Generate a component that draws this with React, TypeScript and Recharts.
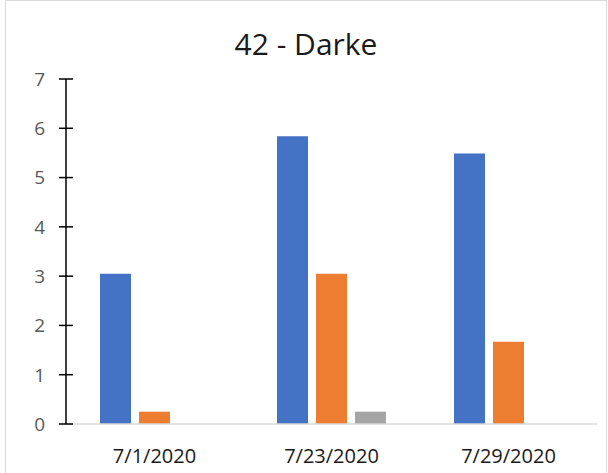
import { Bar, BarChart, XAxis, YAxis } from "recharts"

const dates = ["7/1/2020", "7/23/2020", "7/29/2020"]
const series1 = [3.05, 5.84, 5.49]
const series2 = [0.25, 3.05, 1.67]
const series3 = [0, 0.25, 0]
const yTicks = [0, 1, 2, 3, 4, 5, 6, 7]

const data = dates.map((date, i) => ({
  date,
  s1: series1[i],
  s2: series2[i],
  s3: series3[i],
}))

const FONT = "'Open Sans', sans-serif"

function YTick({ x, y, payload }: any) {
  const ax = x + 8
  return (
    <g>
      <line x1={ax - 7} x2={ax + 7} y1={y} y2={y} stroke="#000" strokeWidth={1.5} />
      <text x={ax - 21} y={y} dy="0.36em" textAnchor="end" fill="#595959" fontSize={19} fontFamily={FONT}>
        {payload.value}
      </text>
    </g>
  )
}

function XTick({ x, y, payload }: any) {
  return (
    <text x={x} y={y + 31} textAnchor="middle" fill="#1a1a1a" fontSize={20} fontFamily={FONT}>
      {payload.value}
    </text>
  )
}

export default function App() {
  return (
    <div style={{ position: "fixed", left: 0, top: 0, width: 608, height: 473, background: "#fff", overflow: "hidden" }}>
      <div style={{ position: "absolute", left: 5, top: 0, width: 600, height: 490, border: "1px solid #d9d9d9" }} />
      <div
        style={{
          position: "absolute",
          left: 0,
          top: 24,
          width: 612,
          textAlign: "center",
          fontFamily: FONT,
          fontSize: 30,
          color: "#1a1a1a",
          lineHeight: "40px",
        }}
      >
        42 - Darke
      </div>
      <div style={{ position: "absolute", left: 0, top: 0 }}>
        <BarChart
          width={608}
          height={473}
          data={data}
          margin={{ top: 79, right: 11, bottom: 9, left: 26 }}
          barSize={31}
          barGap={8}
        >
          <XAxis
            dataKey="date"
            axisLine={{ stroke: "#d9d9d9", strokeWidth: 1.5 }}
            tickLine={false}
            tick={<XTick />}
            height={40}
          />
          <YAxis
            domain={[0, 7]}
            ticks={yTicks}
            width={40}
            axisLine={{ stroke: "#000", strokeWidth: 1.5 }}
            tickLine={false}
            tick={<YTick />}
            interval={0}
          />
          <Bar dataKey="s1" fill="#4472C4" isAnimationActive={false} />
          <Bar dataKey="s2" fill="#ED7D31" isAnimationActive={false} />
          <Bar dataKey="s3" fill="#A5A5A5" isAnimationActive={false} />
        </BarChart>
      </div>
    </div>
  )
}
